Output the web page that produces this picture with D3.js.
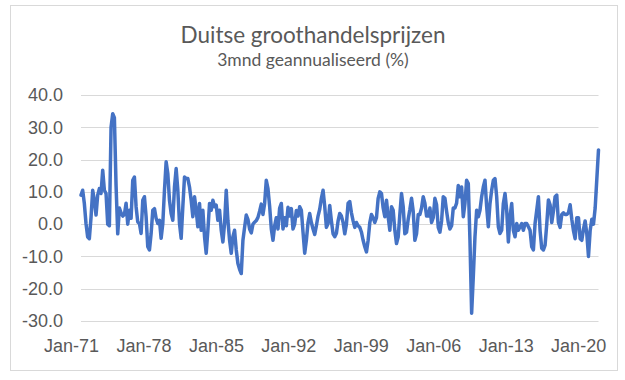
<!DOCTYPE html>
<html>
<head>
<meta charset="utf-8">
<script src="https://cdn.jsdelivr.net/npm/d3@7"></script>
<style>
  html, body { margin: 0; padding: 0; background: #fff; }
  svg { display: block; font-family: Lato, "Open Sans", sans-serif; }
  .axis text { fill: #595959; font-size: 18px; }
  .axis .domain { display: none; }
  .grid line { stroke: #d9d9d9; stroke-width: 1; }
</style>
</head>
<body>
<svg id="chart" width="625" height="380"></svg>
<script>
/* Duitse groothandelsprijzen, 3mnd geannualiseerd (%).
 * Values, evenly spaced from Jan-71 to Jan-21. */

const titleText = 'Duitse groothandelsprijzen';
const subtitleText = '3mnd geannualiseerd (%)';

const seriesStart = new Date(1971, 0, 1);
const seriesEnd = new Date(2021, 0, 1);

const values = [
  9.0, 10.5, 6.4, 0.2, -4, -4.5, 2, 10.5, 7.4, 2.8,
  9, 11, 9.5, 16.7, 10.5, 9.5, 0, -0.5, 30, 34.2,
  33, 12, -3, 5, 3.5, 2.5, 3, 6.5, 0, 4.3,
  1.8, 13.6, 14.6, 5.4, 0.7, 0.2, -2.9, 7.4, 8.5, 2.3,
  -7, -8, -2.9, 4.3, 4.8, 1.8, 0.2, 1.2, -4.4, 0.2,
  10.5, 19.3, 15.7, 7.4, 3.3, 1.2, 11.5, 17.2, 10.5, 0.2,
  -4.4, 5.4, 14.6, 14.1, 14.1, 11.5, 7.4, 2.3, 8.5, 4.3,
  -0.8, 6.4, -1.9, 4.3, -3.9, -9, -1.9, 6.4, 4.3, 7.4,
  5.4, 5.9, 1.2, 4.3, -1.9, -5.5, 0.2, 10.5, 1.2, -5,
  -9, -3.9, -1.9, -8, -12.2, -14, -15.3, -5, -1, 2.8,
  1.5, -1.5, -2.7, 0, 0.6, 1.1, 2.1, 4, 6.2, 3,
  6.4, 13.6, 11, 5.5, -1.5, -5, -0.5, 2, -1.5, 5,
  6.4, -1.5, 2, -0.5, 5.2, 2.5, 4.8, -1.5, 0, 4.2,
  2.5, 5.4, 4.3, -2.5, -9, -5, 0.5, 3.3, 0.5, -1.5,
  -3.2, -0.5, 2.5, 4.6, 8, 10.5, 5.5, -1, 0.2, 5.8,
  1, -3, -3.9, -2.8, 1, 3.3, 2.5, 0.5, -3, 0,
  6.5, 7, 3.5, 1, -1, 0.5, -0.5, -1, -2.5, -5,
  -7, -8.6, -5, 0.5, 3, 2, 0.5, 2, 8, 10,
  9.5, 5, 2.3, 7.4, 2.3, -1.9, 5.4, 4.3, -1.9, -6,
  -4, 3, 9.5, 5.5, -3, -2.5, 1.5, 4.5, 8, 4,
  -5, -3, 3, 3, 5, 8.5, 6.5, 2.5, 2.5, 5,
  0.5, 2, 8, 6, -1, -2.5, 1, 8.5, 8, 4,
  0.5, -1.5, -0.5, 5, 5, 6.5, 12, 8.5, 11.5, 2.3,
  6.4, 13.6, 12.6, -5, -27.6, -16.3, -3.9, 4.3, 2.3, 4.3,
  8.5, 11.5, 13.6, 5.4, -0.8, 6.4, 10.5, 13.6, 14.1, 8.5,
  -0.8, -2.9, -1.9, 6.4, 9.5, 4.3, -5.5, 2.3, 6.4, -1.9,
  -3.9, 0.2, -1.9, -0.8, 0.2, -1.9, 0.2, 0.2, -0.8, -1.9,
  -7, -8, 0.2, 4.3, 8.5, -2, -7.5, -8, -6.5, 0,
  7.5, 6, 0.5, 4, 8.5, 9, 0.5, -1, 3, 3.5,
  3, 3, 3.5, 6, 1.5, -2, -4.5, 2, 2, -4.5,
  -5, -1.5, 1, -3, -10, -2, 1.5, 0, 5, 14,
  23,
];

const yTicks = [-30, -20, -10, 0, 10, 20, 30, 40];
const xTickYears = [1971, 1978, 1985, 1992, 1999, 2006, 2013, 2020];
const xTickLabels = ['Jan-71', 'Jan-78', 'Jan-85', 'Jan-92', 'Jan-99', 'Jan-06', 'Jan-13', 'Jan-20'];

/* ------------------------------------------------------------------ *
 * Layout
 * ------------------------------------------------------------------ */
const plot = { left: 81, right: 598.5, top: 95, bottom: 321 };

const svg = d3.select('#chart');

// chart frame
svg.append('rect')
  .attr('x', 10.5).attr('y', 5.5)
  .attr('width', 607).attr('height', 365)
  .attr('fill', '#fff')
  .attr('stroke', '#d9d9d9');

const span = seriesEnd - seriesStart;
const data = values.map((v, i) => ({
  date: new Date(+seriesStart + (span * i) / (values.length - 1)),
  v,
}));

const x = d3.scaleTime().domain([seriesStart, seriesEnd]).range([plot.left, plot.right]);
const y = d3.scaleLinear().domain([-30, 40]).range([plot.bottom, plot.top]);

// Gridlines
svg.append('g').attr('class', 'grid')
  .selectAll('line').data(yTicks).enter().append('line')
  .attr('x1', plot.left).attr('x2', plot.right)
  .attr('y1', (d) => Math.round(y(d)) + 0.5).attr('y2', (d) => Math.round(y(d)) + 0.5);

// Axes
svg.append('g').attr('class', 'axis')
  .attr('transform', `translate(${plot.left},0)`)
  .call(d3.axisLeft(y).tickValues(yTicks).tickSize(0).tickPadding(18)
    .tickFormat((d) => d.toFixed(1)));

// Excel sets the date labels a little left of their month
const xTickDates = xTickYears.map((yr) => new Date(yr, 0, 1));
svg.append('g').attr('class', 'axis')
  .attr('transform', `translate(0,${plot.bottom})`)
  .call(d3.axisBottom(x).tickValues(xTickDates).tickSize(0).tickPadding(18)
    .tickFormat((d, i) => xTickLabels[i]))
  .selectAll('text').attr('dx', -10);

// Series
const line = d3.line()
  .x((d) => x(d.date))
  .y((d) => y(d.v))
  .curve(d3.curveLinear);
svg.append('path')
  .datum(data)
  .attr('fill', 'none')
  .attr('stroke', '#4472c4')
  .attr('stroke-width', 3.5)
  .attr('stroke-linejoin', 'round')
  .attr('stroke-linecap', 'round')
  .attr('d', line);

// Titles
svg.append('text')
  .attr('x', 313).attr('y', 43)
  .attr('text-anchor', 'middle')
  .attr('fill', '#595959').attr('font-size', 22.5)
  .text(titleText);
svg.append('text')
  .attr('x', 313).attr('y', 66)
  .attr('text-anchor', 'middle')
  .attr('fill', '#595959').attr('font-size', 17.5)
  .text(subtitleText);
</script>
</body>
</html>
